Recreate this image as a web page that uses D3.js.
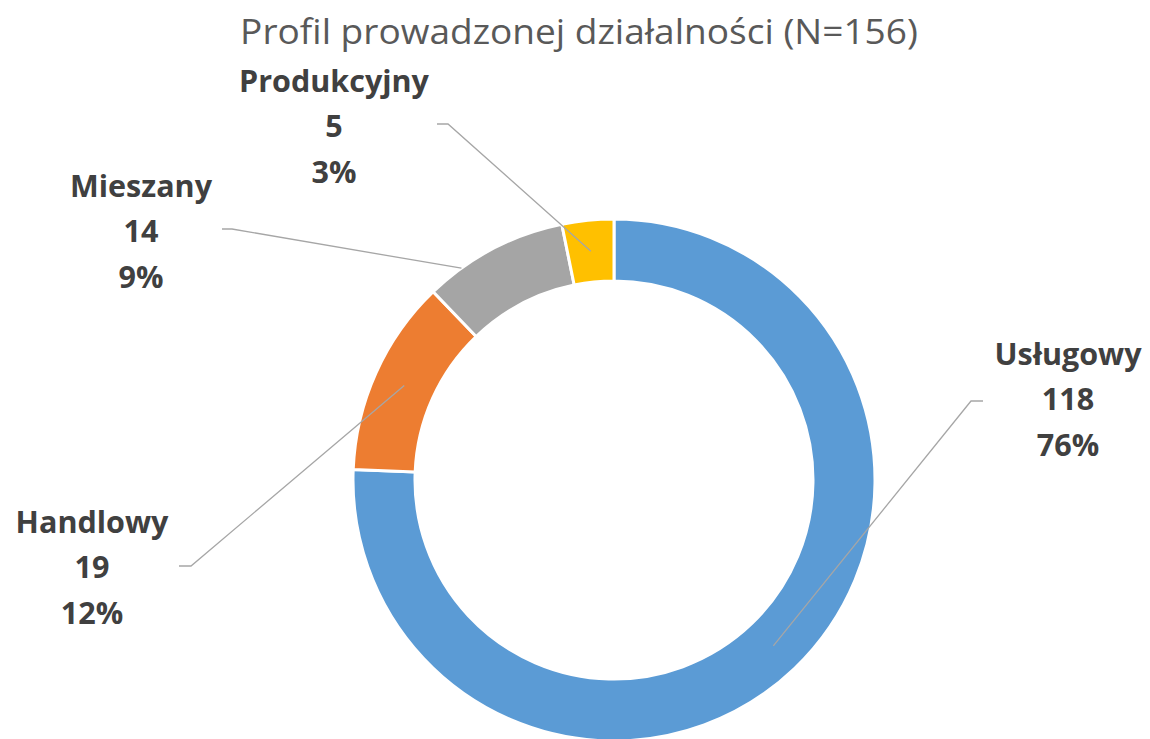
<!DOCTYPE html>
<html>
<head>
<meta charset="utf-8">
<script src="https://cdn.jsdelivr.net/npm/d3@7"></script>
<style>
  html, body { margin: 0; padding: 0; background: #fff; }
  svg { display: block; }
</style>
</head>
<body>
<svg id="chart" width="1150" height="739"></svg>
<script>
// ---- data ----
const title = "Profil prowadzonej działalności (N=156)";
const categories = ["Usługowy", "Handlowy", "Mieszany", "Produkcyjny"];
const values = [118, 19, 14, 5];
const percentLabels = ["76%", "12%", "9%", "3%"];
const colors = ["#5B9BD5", "#ED7D31", "#A5A5A5", "#FFC000"];

// ---- layout ----
const W = 1150, H = 739;
const cx = 614, cy = 480, rOuter = 261, rInner = 199;
const labelPos = [
  { x: 1068, y: 365 },
  { x: 92, y: 533 },
  { x: 141, y: 197 },
  { x: 334, y: 92 }
];
const anchorSpec = [
  { f: 0.5, r: 230 },
  { f: 0.5, r: 230 },
  { f: 0.25, r: 261 },
  { f: 0.5, r: 230 }
];
const leaderBend = [
  { bx: 971, by: 401, ex: 983 },
  { bx: 191, by: 566, ex: 179 },
  { bx: 232, by: 229, ex: 222 },
  { bx: 448, by: 124, ex: 437 }
];

const svg = d3.select("#chart");
const g = svg.append("g").attr("transform", `translate(${cx},${cy})`);

const pie = d3.pie().sort(null).value(d => d)(values);
const arc = d3.arc().innerRadius(rInner).outerRadius(rOuter);

g.selectAll("path.slice")
  .data(pie)
  .join("path")
  .attr("class", "slice")
  .attr("d", arc)
  .attr("fill", (d, i) => colors[i])
  .attr("stroke", "#fff")
  .attr("stroke-width", 3);

pie.forEach((d, i) => {
  const a = d.startAngle + anchorSpec[i].f * (d.endAngle - d.startAngle);
  const r = anchorSpec[i].r;
  const ax = cx + Math.sin(a) * r, ay = cy - Math.cos(a) * r;
  const lb = leaderBend[i];
  svg.append("polyline")
    .attr("points", `${ax},${ay} ${lb.bx},${lb.by} ${lb.ex},${lb.by}`)
    .attr("fill", "none")
    .attr("stroke", "#A6A6A6")
    .attr("stroke-width", 1.3);
});

const font = "'Open Sans', 'Liberation Sans', sans-serif";

// measure horizontal squeeze so Open Sans matches the narrower original face
const probe = svg.append("text").attr("font-family", font).attr("font-weight", 700)
  .attr("font-size", 31).text(categories[3]);
const labelSX = 190 / probe.node().getComputedTextLength();
probe.remove();

categories.forEach((c, i) => {
  const p = labelPos[i];
  const t = svg.append("text")
    .attr("transform", `translate(${p.x},0) scale(${labelSX},1)`)
    .attr("font-family", font)
    .attr("font-weight", 700)
    .attr("font-size", 31)
    .attr("fill", "#404040")
    .attr("text-anchor", "middle");
  [c, String(values[i]), percentLabels[i]].forEach((s, k) => {
    t.append("tspan").attr("x", 0).attr("y", p.y + k * 45.5).text(s);
  });
});

// title
const tt = svg.append("text")
  .attr("font-family", font)
  .attr("font-weight", 400)
  .attr("font-size", 35)
  .attr("fill", "#595959")
  .attr("text-anchor", "middle")
  .attr("x", 0)
  .attr("y", 44)
  .text(title);
const titleSX = 678 / tt.node().getComputedTextLength();
tt.attr("transform", `translate(579,0) scale(${titleSX},1)`);
</script>
</body>
</html>
